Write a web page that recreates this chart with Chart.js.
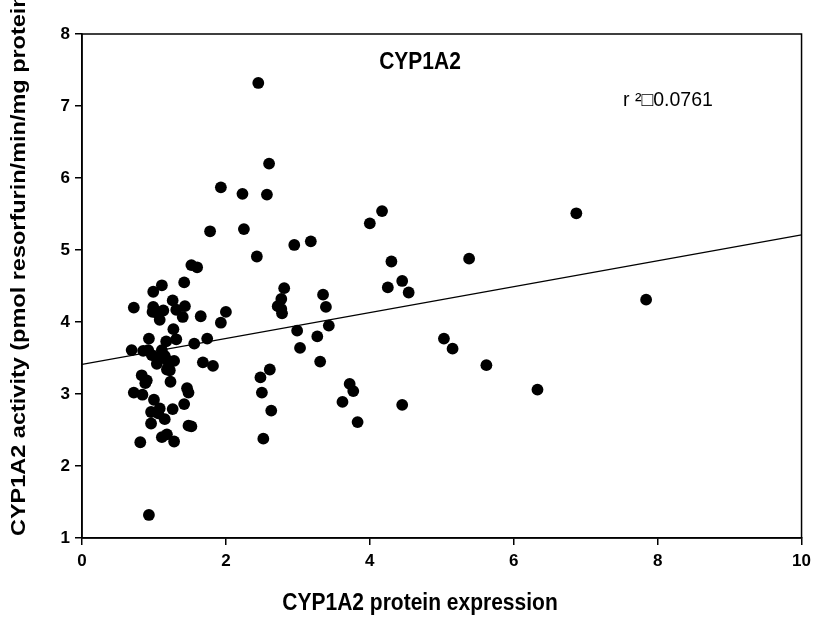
<!DOCTYPE html>
<html>
<head>
<meta charset="utf-8">
<script src="https://cdn.jsdelivr.net/npm/chart.js@4/dist/chart.umd.min.js"></script>
<style>
  html, body { margin: 0; padding: 0; background: #fff; }
  #wrap { width: 817px; height: 626px; position: relative; }
</style>
</head>
<body>
<div id="wrap"><canvas id="c" width="817" height="626"></canvas></div>
<script>
// ---- Data ----
const proteinExpression = [
  0.72, 0.99, 1.11, 1.42, 1.52, 1.60, 2.43, 1.26, 0.99, 0.98,
  1.05, 1.13, 1.08, 1.31, 1.43, 1.40, 1.65, 2.00, 1.93, 1.27,
  0.93, 1.17, 1.31, 1.56, 1.74, 0.69, 0.85, 0.92, 0.97, 1.11,
  1.08, 1.15, 1.18, 1.28, 1.04, 1.18, 1.22, 1.68, 1.82, 0.83,
  0.90, 0.88, 1.23, 1.46, 1.48, 0.72, 0.84, 1.00, 1.08, 0.96,
  1.06, 1.26, 1.42, 0.96, 1.15, 1.48, 1.52, 1.11, 1.18, 1.28,
  0.81, 0.93, 2.45, 2.60, 1.93, 2.23, 2.57, 1.78, 2.25, 2.95,
  3.18, 4.00, 4.17, 4.30, 5.38, 2.81, 2.77, 2.72, 2.77, 2.78,
  3.35, 3.39, 4.25, 4.45, 4.54, 3.43, 2.99, 3.27, 3.03, 3.31,
  5.03, 5.15, 2.61, 2.48, 2.50, 2.63, 2.52, 3.72, 3.77, 3.62,
  4.45, 3.83, 6.87, 7.84, 5.62, 6.33
];
const activity = [
  4.20, 4.42, 4.51, 4.55, 4.79, 4.76, 4.91, 4.30, 4.21, 4.14,
  4.12, 4.16, 4.03, 4.17, 4.22, 4.07, 4.08, 4.14, 3.99, 3.90,
  3.77, 3.73, 3.76, 3.70, 3.77, 3.61, 3.60, 3.61, 3.54, 3.61,
  3.52, 3.53, 3.47, 3.46, 3.42, 3.34, 3.33, 3.44, 3.39, 3.26,
  3.19, 3.15, 3.17, 3.08, 3.02, 3.02, 2.99, 2.92, 2.80, 2.75,
  2.73, 2.79, 2.86, 2.59, 2.65, 2.56, 2.55, 2.40, 2.44, 2.34,
  2.33, 1.32, 7.32, 6.20, 5.87, 5.78, 5.77, 5.26, 5.29, 5.07,
  5.12, 5.37, 5.54, 4.84, 4.88, 4.47, 4.32, 4.22, 4.18, 4.12,
  4.38, 4.21, 4.48, 4.57, 4.41, 3.95, 3.88, 3.80, 3.64, 3.45,
  3.77, 3.63, 3.34, 3.23, 3.02, 2.77, 2.38, 3.14, 3.04, 2.89,
  2.85, 2.61, 5.51, 4.31, 3.40, 3.06
];
const fitX = [0, 10];
const fitY = [3.41, 5.21];
const xTicks = [0, 2, 4, 6, 8, 10];
const yTicks = [1, 2, 3, 4, 5, 6, 7, 8];

const chartTitle = "CYP1A2";
const rSquaredText = "r \u00B2\u25A10.0761";
const xTitle = "CYP1A2 protein expression";
const yTitle = "CYP1A2 activity (pmol resorfurin/min/mg protein)";

const FONT = "'Liberation Sans', Arial, Helvetica, sans-serif";

const scatterPoints = proteinExpression.map((x, i) => ({ x: x, y: activity[i] }));
const fitPoints = fitX.map((x, i) => ({ x: x, y: fitY[i] }));

const decorPlugin = {
  id: 'decor',
  afterDraw(chart) {
    const ctx = chart.ctx;
    const a = chart.chartArea;
    ctx.save();
    // frame
    ctx.strokeStyle = '#000';
    ctx.lineWidth = 1.5;
    ctx.strokeRect(a.left, a.top, a.right - a.left, a.bottom - a.top);
    ctx.fillStyle = '#000';
    // title inside plot
    ctx.save();
    ctx.translate(420, 62);
    ctx.scale(1, 1.15);
    ctx.textAlign = 'center';
    ctx.textBaseline = 'middle';
    ctx.font = "bold 21px " + FONT;
    ctx.fillText(chartTitle, 0, 0);
    ctx.restore();
    // r squared
    ctx.textAlign = 'left';
    ctx.textBaseline = 'middle';
    ctx.font = "19.5px " + FONT;
    ctx.fillText(rSquaredText, 623, 101);
    // x title
    ctx.save();
    ctx.translate(420, 604);
    ctx.scale(1, 1.12);
    ctx.textAlign = 'center';
    ctx.textBaseline = 'middle';
    ctx.font = "bold 21px " + FONT;
    ctx.fillText(xTitle, 0, 0);
    ctx.restore();
    // y title (rotated, anchored at bottom, stretched along its length)
    ctx.save();
    ctx.translate(19, 536);
    ctx.rotate(-Math.PI / 2);
    ctx.scale(1.118, 1);
    ctx.textAlign = 'left';
    ctx.textBaseline = 'middle';
    ctx.font = "bold 21px " + FONT;
    ctx.fillText(yTitle, 0, 0);
    ctx.restore();
    ctx.restore();
  }
};

new Chart(document.getElementById('c'), {
  type: 'scatter',
  data: {
    datasets: [
      {
        type: 'line',
        data: fitPoints,
        borderColor: '#000',
        borderWidth: 1.3,
        pointRadius: 0,
        fill: false,
        order: 2
      },
      {
        type: 'scatter',
        data: scatterPoints,
        backgroundColor: '#000',
        borderColor: '#000',
        borderWidth: 0,
        pointRadius: 5.9,
        order: 1
      }
    ]
  },
  options: {
    responsive: false,
    animation: false,
    layout: { padding: { top: 34, right: 15, left: 0, bottom: 0 } },
    plugins: {
      legend: { display: false },
      tooltip: { enabled: false },
      title: { display: false }
    },
    scales: {
      x: {
        type: 'linear',
        min: 0, max: 10,
        afterFit(scale) { scale.height = 88; },
        afterBuildTicks(scale) { scale.ticks = xTicks.map(v => ({ value: v })); },
        ticks: {
          color: '#000',
          font: { family: FONT, size: 17, weight: 'bold' },
          padding: 6,
          maxRotation: 0
        },
        grid: {
          display: true,
          drawOnChartArea: false,
          drawTicks: true,
          tickLength: 7,
          color: '#000',
          lineWidth: 1.5
        },
        border: { display: true, color: '#000', width: 1.5 }
      },
      y: {
        type: 'linear',
        min: 1, max: 8,
        afterFit(scale) { scale.width = 82; },
        afterBuildTicks(scale) { scale.ticks = yTicks.map(v => ({ value: v })); },
        ticks: {
          color: '#000',
          font: { family: FONT, size: 17, weight: 'bold' },
          padding: 5
        },
        grid: {
          display: true,
          drawOnChartArea: false,
          drawTicks: true,
          tickLength: 7,
          color: '#000',
          lineWidth: 1.5
        },
        border: { display: true, color: '#000', width: 1.5 }
      }
    }
  },
  plugins: [decorPlugin]
});
</script>
</body>
</html>
